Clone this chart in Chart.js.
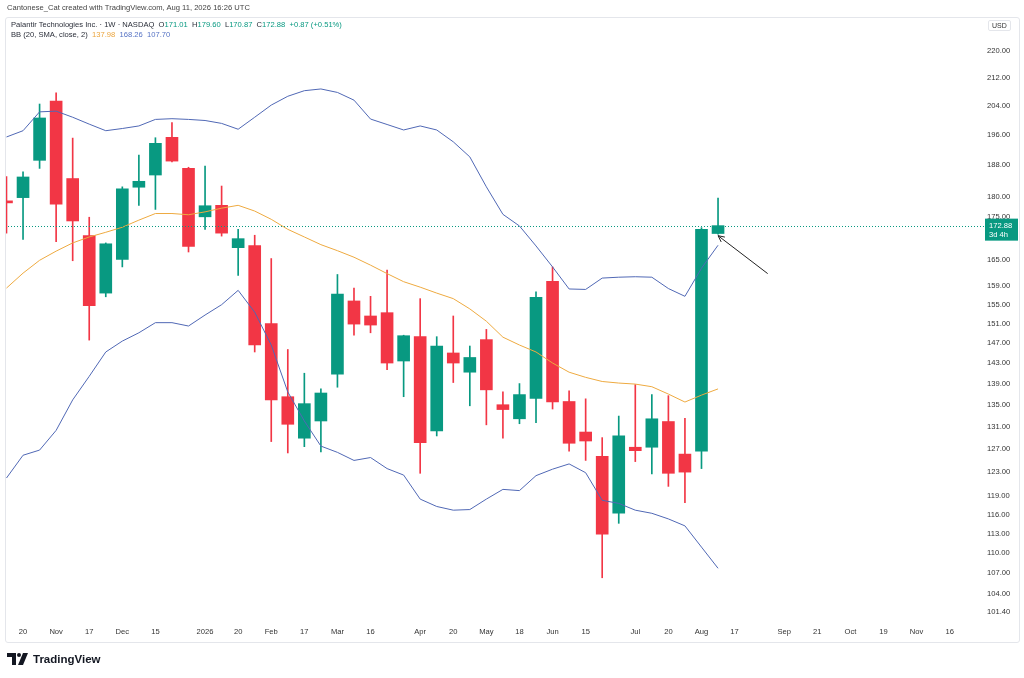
<!DOCTYPE html>
<html lang="en">
<head>
<meta charset="UTF-8">
<title>Palantir Technologies Inc. 1W</title>
<script src="https://cdn.jsdelivr.net/npm/chart.js@4.4.1/dist/chart.umd.min.js"></script>
<style>
  body { margin: 0; background: #fff; font-family: 'Liberation Sans', Arial, sans-serif; }
  #wrap { position: relative; width: 1024px; height: 678px; overflow: hidden; }
  #chart { position: absolute; left: 0; top: 0; }
  #panel { position: absolute; left: 5px; top: 17px; width: 1013px; height: 624px; border: 1px solid #e4e6eb; border-radius: 3px; pointer-events: none; }
  .txt { position: absolute; white-space: nowrap; font-size: 7.6px; line-height: 10px; color: #2a2e39; }
  .up { color: #089981; }
  .or { color: #eba43c; }
  .bl { color: #5572c4; }
  #usd { position: absolute; left: 988px; top: 20px; font-size: 7px; color: #333; border: 1px solid #e4e6eb; border-radius: 2px; padding: 1px 3px; }
  #logo { position: absolute; left: 7px; top: 653px; display: flex; align-items: center; gap: 4px; font-weight: bold; font-size: 11.5px; color: #131722; }
</style>
</head>
<body>
<div id="wrap">
  <canvas id="chart" width="1024" height="678"></canvas>
  <div id="panel"></div>
  <div class="txt" style="left:7px;top:3px;color:#444;">Cantonese_Cat created with TradingView.com, Aug 11, 2026 16:26 UTC</div>
  <div class="txt" style="left:11px;top:20px;">Palantir Technologies Inc. · 1W · NASDAQ&nbsp;&nbsp;O<span class="up">171.01</span>&nbsp;&nbsp;H<span class="up">179.60</span>&nbsp;&nbsp;L<span class="up">170.87</span>&nbsp;&nbsp;C<span class="up">172.88</span>&nbsp;&nbsp;<span class="up">+0.87 (+0.51%)</span></div>
  <div class="txt" style="left:11px;top:30px;">BB (20, SMA, close, 2)&nbsp;&nbsp;<span class="or">137.98</span>&nbsp;&nbsp;<span class="bl">168.26</span>&nbsp;&nbsp;<span class="bl">107.70</span></div>
  <div id="usd">USD</div>
  <div id="logo">
    <svg width="22" height="12" viewBox="0 0 22 12"><path d="M0 0h9v12H5V4H0z" fill="#131722"/><circle cx="12" cy="2" r="2" fill="#131722"/><path d="M16 0h5l-5 12h-5z" fill="#131722"/></svg>
    <span>TradingView</span>
  </div>
</div>
<script>
// weekly candles, Palantir (PLTR), Oct 13 2025 .. Aug 10 2026
const weeks = ['2025-10-13','2025-10-20','2025-10-27','2025-11-03','2025-11-10','2025-11-17','2025-11-24',
  '2025-12-01','2025-12-08','2025-12-15','2025-12-22','2025-12-29','2026-01-05','2026-01-12','2026-01-19',
  '2026-01-26','2026-02-02','2026-02-09','2026-02-16','2026-02-23','2026-03-02','2026-03-09','2026-03-16',
  '2026-03-23','2026-03-30','2026-04-06','2026-04-13','2026-04-20','2026-04-27','2026-05-04','2026-05-11',
  '2026-05-18','2026-05-25','2026-06-01','2026-06-08','2026-06-15','2026-06-22','2026-06-29','2026-07-06',
  '2026-07-13','2026-07-20','2026-07-27','2026-08-03','2026-08-10'];

const open  = [178.9,179.7,189.2,205.3,184.5,170.5,157.5,165.0,182.3,185.4,195.3,187.1,175.0,177.8,167.7,
  168.2,151.0,136.5,128.9,132.0,140.8,155.8,152.6,153.3,143.4,148.3,130.2,145.0,141.2,147.7,135.0,
  132.4,136.2,160.1,135.6,130.0,125.7,116.2,127.3,127.3,131.9,126.1,126.6,171.01];
const high  = [185.0,186.2,204.5,207.7,195.1,174.9,168.8,182.4,190.6,195.2,199.3,187.4,187.7,182.6,172.0,
  170.6,165.2,145.7,141.0,138.0,161.6,158.6,156.8,162.6,148.6,156.3,148.3,152.6,146.4,149.8,137.4,
  139.0,157.8,163.3,137.6,136.1,129.0,132.9,138.8,136.9,136.7,132.5,172.4,179.60];
const low   = [171.1,169.6,187.1,169.1,164.7,147.6,156.7,163.3,177.8,176.8,188.8,166.7,172.0,170.4,161.4,
  145.2,128.3,126.3,127.4,126.5,138.3,148.6,149.1,141.7,136.5,122.8,129.3,139.2,134.8,131.3,128.9,
  131.5,131.7,134.2,126.6,125.0,106.3,114.6,124.8,122.7,120.6,117.9,123.6,170.87];
const close = [178.4,184.9,200.6,178.1,174.0,154.8,168.6,181.9,183.8,193.7,189.0,168.0,177.7,171.1,169.8,
  146.6,135.9,131.4,135.2,137.2,157.3,150.9,150.7,143.0,148.5,128.1,146.4,143.0,144.1,137.8,134.1,
  136.9,156.6,135.5,128.0,128.4,112.9,129.3,126.7,132.4,122.8,123.0,172.01,172.88];

// Bollinger Bands (20, SMA, close, 2)
const bbUpper = [195.4,197.1,202.3,202.5,200.8,198.9,197.1,197.7,198.4,200.2,200.4,200.2,199.9,199.1,197.5,
  200.8,204.2,206.7,208.3,208.8,207.8,205.6,200.3,198.8,197.3,198.4,197.3,194.1,190.1,182.4,175.6,
  172.8,168.1,163.3,158.4,158.3,160.8,161.0,161.1,161.0,158.5,156.8,163.0,168.26];
const bbBasis = [158.6,161.9,164.8,166.9,168.8,170.2,171.3,172.5,174.2,175.8,175.8,175.5,176.2,177.1,177.8,
  176.4,174.4,172.0,170.2,168.4,167.0,165.5,163.7,161.8,160.0,158.8,157.5,156.3,154.1,151.5,148.2,
  146.6,145.2,143.0,141.2,140.2,139.4,139.1,138.9,138.4,137.0,135.5,136.8,137.98];
const bbLower = [122.0,125.9,126.8,130.3,135.9,140.4,145.2,147.4,149.1,151.2,151.2,150.5,152.8,155.0,158.1,
  153.4,146.6,137.4,132.0,127.5,126.4,125.0,125.5,123.6,122.5,118.5,117.3,116.7,116.8,118.5,120.1,
  119.9,122.4,123.5,124.4,122.9,118.3,117.8,116.7,116.2,115.3,114.2,110.9,107.70];

// time axis labels (week index -> text), future weeks run on to Nov 2026
const tickPos  = [1,3,5,7,9,12,14,16,18,20,22,25,27,29,31,33,35,38,40,42,44,47,49,51,53,55,57];
const tickText = ['20','Nov','17','Dec','15','2026','20','Feb','17','Mar','16','Apr','20','May','18','Jun','15',
  'Jul','20','Aug','17','Sep','21','Oct','19','Nov','16'];
const priceTicks = [220,212,204,196,188,180,175,170,165,159,155,151,147,143,139,135,131,127,123,119,116,113,110,107,104,101.4];

const lastClose = 172.88;
const countdown = '3d 4h';
const arrowPts = [{ x: 46.0, y: 161.8 }, { x: 43.0, y: 170.5 }];

const UP = '#089981', DOWN = '#f23645';
const FONT = "'Liberation Sans', Arial, sans-serif";

const candleColors = open.map((o, i) => close[i] >= o ? UP : DOWN);
const wickData = weeks.map((w, i) => ({ x: i, y: [low[i], high[i]] }));
const bodyData = weeks.map((w, i) => ({ x: i, y: [open[i], close[i]] }));
const line = arr => arr.map((v, i) => ({ x: i, y: v }));

// last price line, price tag and the drawn arrow
const overlay = {
  id: 'overlay',
  afterDraw(chart) {
    const { ctx, chartArea: a, scales: { x, y } } = chart;
    const py = y.getPixelForValue(lastClose);
    ctx.save();
    ctx.strokeStyle = UP;
    ctx.lineWidth = 1;
    ctx.setLineDash([1, 2]);
    ctx.beginPath();
    ctx.moveTo(a.left, Math.round(py) + 0.5);
    ctx.lineTo(a.right + 8, Math.round(py) + 0.5);
    ctx.stroke();
    ctx.setLineDash([]);

    ctx.fillStyle = UP;
    ctx.fillRect(a.right + 8, py - 7, 33, 22);
    ctx.fillStyle = '#fff';
    ctx.font = '7.6px ' + FONT;
    ctx.textBaseline = 'middle';
    ctx.fillText(lastClose.toFixed(2), a.right + 12, py);
    ctx.fillText(countdown, a.right + 12, py + 9);

    const [t, h] = arrowPts;
    const x0 = x.getPixelForValue(t.x), y0 = y.getPixelForValue(t.y);
    const x1 = x.getPixelForValue(h.x), y1 = y.getPixelForValue(h.y);
    const ang = Math.atan2(y1 - y0, x1 - x0);
    ctx.strokeStyle = '#222';
    ctx.lineWidth = 1;
    ctx.beginPath();
    ctx.moveTo(x0, y0);
    ctx.lineTo(x1, y1);
    ctx.moveTo(x1, y1);
    ctx.lineTo(x1 - 7 * Math.cos(ang - 0.45), y1 - 7 * Math.sin(ang - 0.45));
    ctx.moveTo(x1, y1);
    ctx.lineTo(x1 - 7 * Math.cos(ang + 0.45), y1 - 7 * Math.sin(ang + 0.45));
    ctx.stroke();
    ctx.restore();
  }
};

new Chart(document.getElementById('chart'), {
  type: 'bar',
  data: {
    datasets: [
      { type: 'line', label: 'Upper', data: line(bbUpper), borderColor: '#5068b5', borderWidth: 1, pointRadius: 0, tension: 0, order: 0 },
      { type: 'line', label: 'Basis', data: line(bbBasis), borderColor: '#eeaa40', borderWidth: 1, pointRadius: 0, tension: 0, order: 0 },
      { type: 'line', label: 'Lower', data: line(bbLower), borderColor: '#5068b5', borderWidth: 1, pointRadius: 0, tension: 0, order: 0 },
      { label: 'Body', data: bodyData, backgroundColor: candleColors, barThickness: 12, grouped: false, borderSkipped: false, order: 1 },
      { label: 'Wick', data: wickData, backgroundColor: candleColors, barThickness: 1, grouped: false, borderSkipped: false, order: 2 }
    ]
  },
  options: {
    responsive: false,
    animation: false,
    layout: { padding: { left: 5, top: 18, right: 4, bottom: 36 } },
    plugins: { legend: { display: false }, tooltip: { enabled: false } },
    scales: {
      x: {
        type: 'linear', min: -0.09, max: 58.65, bounds: 'data', offset: false,
        grid: { display: false, drawTicks: false }, border: { display: false },
        afterBuildTicks: s => { s.ticks = tickPos.map(v => ({ value: v })); },
        afterFit: s => { s.height = 20; },
        ticks: {
          autoSkip: false, maxRotation: 0, padding: 5, color: '#333',
          font: { size: 7.6, family: FONT },
          callback: v => { const k = tickPos.indexOf(v); return k < 0 ? '' : tickText[k]; }
        }
      },
      y: {
        type: 'logarithmic', position: 'right', min: 100, max: 230.3, bounds: 'data',
        grid: { display: false, drawTicks: false }, border: { display: false },
        afterBuildTicks: s => { s.ticks = priceTicks.map(v => ({ value: v })); },
        afterFit: s => { s.width = 43; },
        ticks: {
          autoSkip: false, padding: 10, color: '#333',
          font: { size: 7.6, family: FONT },
          callback: v => Number(v).toFixed(2)
        }
      }
    }
  },
  plugins: [overlay]
});
</script>
</body>
</html>
